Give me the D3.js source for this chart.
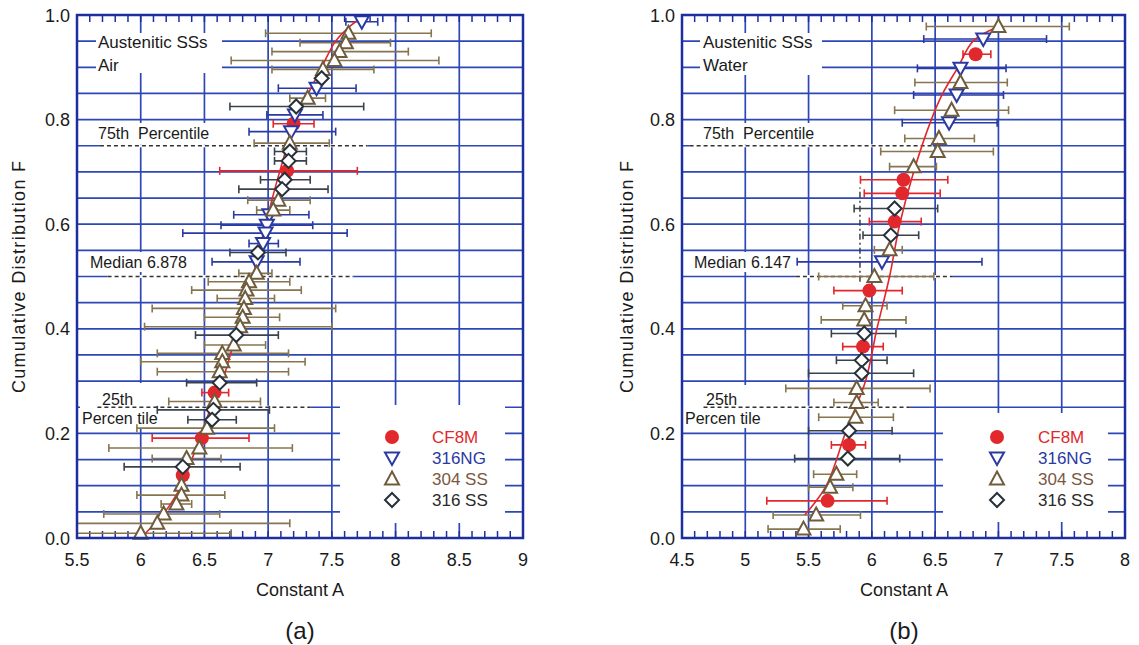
<!DOCTYPE html>
<html><head><meta charset="utf-8">
<script src="https://cdn.jsdelivr.net/npm/d3@7"></script>
<style>body{margin:0;background:#fff} svg{display:block} text{font-family:"Liberation Sans",Arial,sans-serif}</style>
</head><body><svg id="c" width="1139" height="645"></svg>
<script>
// ---------- DATA ----------
const yTicks = [0, 0.2, 0.4, 0.6, 0.8, 1.0];
const xTicksAir = [5.5, 6, 6.5, 7, 7.5, 8, 8.5, 9];
const xTicksWater = [4.5, 5, 5.5, 6, 6.5, 7, 7.5, 8];
const seriesNames = ["CF8M", "316NG", "304 SS", "316 SS"];

// [A, F, low, high]
const airCF8M = [[7.20,0.792,7.04,7.36],[7.15,0.702,6.62,7.70],[6.58,0.278,6.48,6.69],[6.48,0.191,6.09,6.85],[6.33,0.120,null,null]];
const air316NG = [[7.735,0.987,7.61,7.86],[7.38,0.860,7.08,7.69],[7.21,0.809,6.99,7.43],[7.18,0.777,6.85,7.53],[7.01,0.618,6.73,7.32],[6.99,0.598,6.63,7.35],[6.98,0.583,6.33,7.62],[6.96,0.563,6.85,7.08],[6.91,0.528,6.56,7.25]];
const air304 = [[7.63,0.965,6.98,8.28],[7.61,0.947,7.25,7.96],[7.56,0.930,7.03,8.10],[7.52,0.913,6.71,8.34],[7.43,0.896,7.03,7.83],[7.31,0.841,7.17,7.45],[7.17,0.755,6.89,7.48],[7.08,0.646,6.84,7.33],[7.04,0.627,6.91,7.17],[6.91,0.506,6.77,7.03],[6.85,0.490,6.53,7.17],[6.83,0.474,6.40,7.26],[6.82,0.458,6.60,7.05],[6.81,0.439,6.09,7.53],[6.80,0.422,6.50,7.09],[6.78,0.404,6.03,7.50],[6.73,0.369,6.50,6.98],[6.64,0.353,6.13,7.16],[6.64,0.337,6.00,7.29],[6.62,0.318,6.13,7.16],[6.58,0.261,6.22,6.94],[6.52,0.210,5.97,7.05],[6.46,0.172,5.75,7.19],[6.36,0.152,6.09,6.63],[6.32,0.101,null,null],[6.32,0.082,5.97,6.66],[6.28,0.065,6.16,6.40],[6.18,0.046,5.71,6.62],[6.13,0.028,5.50,7.17],[6.00,0.009,5.50,6.71]];
const air316 = [[7.42,0.879,null,null],[7.22,0.825,6.70,7.75],[7.17,0.739,7.05,7.30],[7.16,0.721,7.05,7.30],[7.13,0.685,6.94,7.33],[7.11,0.667,6.77,7.47],[6.92,0.546,6.70,7.14],[6.75,0.388,6.43,7.08],[6.62,0.297,6.36,6.91],[6.57,0.245,6.13,7.01],[6.56,0.226,6.37,6.75],[6.33,0.136,5.87,6.78]];
const airCurveA = [6.00,6.12,6.22,6.32,6.40,6.48,6.55,6.64,6.76,6.88,6.98,7.09,7.22,7.42,7.53,7.65,7.76];
const airCurveF = [0,0.03,0.06,0.1,0.15,0.2,0.25,0.3,0.4,0.5,0.6,0.7,0.8,0.9,0.95,0.98,1.0];

const watCF8M = [[6.82,0.925,6.72,6.94],[6.25,0.685,5.91,6.60],[6.24,0.659,5.94,6.54],[6.18,0.605,5.98,6.39],[5.98,0.473,5.70,6.24],[5.93,0.366,5.77,6.09],[5.82,0.178,5.68,5.95],[5.65,0.071,5.17,6.12]];
const wat316NG = [[6.88,0.954,6.41,7.38],[6.70,0.898,6.36,7.06],[6.67,0.847,6.33,7.04],[6.61,0.794,6.24,6.99],[6.08,0.528,5.41,6.87]];
const wat304 = [[7.00,0.978,6.43,7.56],[6.70,0.871,6.34,7.07],[6.63,0.818,6.18,7.08],[6.53,0.764,6.26,6.81],[6.52,0.739,6.07,6.96],[6.33,0.710,6.14,6.51],[6.14,0.551,6.02,6.24],[6.02,0.500,5.58,6.49],[5.95,0.444,5.77,6.12],[5.94,0.417,5.60,6.27],[5.88,0.286,5.32,6.46],[5.88,0.259,5.70,6.05],[5.87,0.231,5.58,6.17],[5.72,0.122,5.54,5.88],[5.67,0.097,5.50,5.85],[5.56,0.044,5.22,5.91],[5.46,0.017,5.18,5.75]];
const wat316 = [[6.18,0.630,5.86,6.52],[6.15,0.579,5.93,6.37],[5.94,0.391,5.68,6.19],[5.92,0.340,5.72,6.12],[5.92,0.315,5.50,6.33],[5.82,0.205,5.50,6.16],[5.81,0.152,5.39,6.22]];
const watCurveA = [5.47,5.64,5.79,5.95,6.04,6.14,6.22,6.33,6.47,6.56,6.68,6.80,7.00];
const watCurveF = [0.044,0.1,0.2,0.3,0.4,0.5,0.6,0.7,0.8,0.85,0.9,0.95,0.978];

// ---------- STYLE ----------
const GRID = "#2e47b6", BORDER = "#1d2f9e";
const MK = ["#e0282d", "#2a3aa2", "#6e5c3c", "#27313a"];
const BAR = ["#e0282d", "#2a3aa2", "#857650", "#3a434c"];
const TXT = ["#e0282d", "#2a3aa2", "#7a5842", "#2a2a2a"];
const shapes = {
  circle: "M7,0A7,7 0 1,1 -7,0A7,7 0 1,1 7,0Z",
  down: "M0,7L7,-5.5L-7,-5.5Z",
  up: "M0,-7.5L7,5.5L-7,5.5Z",
  diamond: "M0,-7L7,0L0,7L-7,0Z"
};
const shapeKeys = ["circle", "down", "up", "diamond"];

const svg = d3.select("#c");
svg.append("rect").attr("width", 1139).attr("height", 645).attr("fill", "#fff");

const panels = [
  {xDomain:[5.5,9], x0:77, x1:523, xTicks:xTicksAir, series:[airCF8M,air316NG,air304,air316],
   cA:airCurveA, cF:airCurveF, env:"Air", median:"Median 6.878",
   legendBox:[340,405,505,523], legX:392, legTx:432,
   boxes:[[96,33,222,73],[96,123,222,144],[87,252,190,272],[80,383,160,428]],
   dashes:[[0.75,5.68,7.78],[0.5,5.74,7.67],[0.25,5.66,7.33]],
   lbl:{x:98, medX:90, p25x:102, pctX:82}, titleX:19, axTitleX:300, panelLbl:"(a)", vdash:null},
  {xDomain:[4.5,8], x0:682, x1:1125, xTicks:xTicksWater, series:[watCF8M,wat316NG,wat304,wat316],
   cA:watCurveA, cF:watCurveF, env:"Water", median:"Median 6.147",
   legendBox:[943,413,1108,522], legX:997, legTx:1038,
   boxes:[[700,33,822,75],[700,123,820,144],[690,252,797,272],[683,385,765,428]],
   dashes:[[0.75,4.56,6.48],[0.5,5.40,6.64],[0.25,4.67,6.30]],
   lbl:{x:703, medX:694, p25x:706, pctX:685}, titleX:627, axTitleX:904, panelLbl:"(b)", vdash:[5.906,0.49,0.67]}
];

panels.forEach(p => {
  const g = svg.append("g");
  const x = d3.scaleLinear().domain(p.xDomain).range([p.x0, p.x1]);
  const y = d3.scaleLinear().domain([0, 1]).range([538, 15]);
  const [xa, xb] = p.xDomain;

  // horizontal grid every 0.05
  const hs = d3.range(1, 20).map(i => i / 20);
  g.selectAll(".h").data(hs).join("line")
    .attr("x1", p.x0).attr("x2", p.x1).attr("y1", d => y(d)).attr("y2", d => y(d))
    .attr("stroke", GRID).attr("stroke-width", 1.7);
  // vertical grid at major ticks
  g.selectAll(".v").data(p.xTicks.slice(1, -1)).join("line")
    .attr("x1", d => x(d)).attr("x2", d => x(d)).attr("y1", 15).attr("y2", 538)
    .attr("stroke", GRID).attr("stroke-width", 1.7);

  // white boxes (labels + legend)
  p.boxes.concat([p.legendBox]).forEach(b => {
    g.append("rect").attr("x", b[0]).attr("y", b[1]).attr("width", b[2] - b[0]).attr("height", b[3] - b[1]).attr("fill", "#fff");
  });

  // minor ticks top/bottom every 0.1
  const minors = d3.range(Math.round((xb - xa) * 10) + 1).map(i => xa + i / 10);
  minors.forEach(v => {
    g.append("line").attr("x1", x(v)).attr("x2", x(v)).attr("y1", 538).attr("y2", 531).attr("stroke", BORDER).attr("stroke-width", 1.5);
    g.append("line").attr("x1", x(v)).attr("x2", x(v)).attr("y1", 15).attr("y2", 22).attr("stroke", BORDER).attr("stroke-width", 1.5);
  });

  // percentile dashed lines
  p.dashes.forEach(d => {
    g.append("line").attr("x1", x(d[1])).attr("x2", x(d[2])).attr("y1", y(d[0])).attr("y2", y(d[0]))
      .attr("stroke", "#fff").attr("stroke-width", 3);
    g.append("line").attr("x1", x(d[1])).attr("x2", x(d[2])).attr("y1", y(d[0])).attr("y2", y(d[0]))
      .attr("stroke", "#333").attr("stroke-width", 1.4).attr("stroke-dasharray", "4,3");
  });
  if (p.vdash) {
    g.append("line").attr("x1", x(p.vdash[0])).attr("x2", x(p.vdash[0])).attr("y1", y(p.vdash[1])).attr("y2", y(p.vdash[2]))
      .attr("stroke", "#333").attr("stroke-width", 1.4).attr("stroke-dasharray", "6,3,2,3");
  }

  // annotation texts
  const t = (txt, tx, ty, size, anchor) => g.append("text").attr("x", tx).attr("y", ty)
    .attr("font-size", size).attr("fill", "#1a1a1a").attr("text-anchor", anchor || "start").text(txt);
  t("Austenitic SSs", p.lbl.x, 48, 17);
  t(p.env, p.lbl.x, 71, 17);
  t("75th\u00a0\u00a0Percentile", p.lbl.x, 139, 16);
  t(p.median, p.lbl.medX, 268, 16);
  t("25th", p.lbl.p25x, 405, 16);
  t("Percen tile", p.lbl.pctX, 424, 16);

  // error bars
  p.series.forEach((s, si) => {
    s.filter(d => d[2] != null).forEach(d => {
      const yy = y(d[1]);
      g.append("line").attr("x1", x(d[2])).attr("x2", x(d[3])).attr("y1", yy).attr("y2", yy).attr("stroke", BAR[si]).attr("stroke-width", 1.6);
      [d[2], d[3]].forEach(v => g.append("line").attr("x1", x(v)).attr("x2", x(v)).attr("y1", yy - 4).attr("y2", yy + 4).attr("stroke", BAR[si]).attr("stroke-width", 1.6));
    });
  });

  // fitted curve
  const pts = p.cA.map((a, i) => [a, p.cF[i]]);
  g.append("path").datum(pts)
    .attr("d", d3.line().x(d => x(d[0])).y(d => y(d[1])).curve(d3.curveCatmullRom))
    .attr("fill", "none").attr("stroke", "#e0282d").attr("stroke-width", 1.6);

  // markers
  p.series.forEach((s, si) => {
    g.selectAll(".m" + si).data(s).join("path")
      .attr("d", shapes[shapeKeys[si]])
      .attr("transform", d => `translate(${x(d[0])},${y(d[1])})`)
      .attr("fill", si === 0 ? MK[0] : "#fff")
      .attr("stroke", MK[si]).attr("stroke-width", si === 0 ? 0 : 2);
  });

  // legend
  const ly = [437, 458, 479, 500];
  seriesNames.forEach((n, i) => {
    g.append("path").attr("d", shapes[shapeKeys[i]]).attr("transform", `translate(${p.legX},${ly[i]})`)
      .attr("fill", i === 0 ? MK[0] : "#fff").attr("stroke", MK[i]).attr("stroke-width", i === 0 ? 0 : 2);
    g.append("text").attr("x", p.legTx).attr("y", ly[i] + 6).attr("font-size", 17).attr("fill", TXT[i]).text(n);
  });

  // border
  g.append("rect").attr("x", p.x0).attr("y", 15).attr("width", p.x1 - p.x0).attr("height", 523)
    .attr("fill", "none").attr("stroke", BORDER).attr("stroke-width", 2.5);

  // tick labels
  g.selectAll(".xl").data(p.xTicks).join("text")
    .attr("x", d => x(d)).attr("y", 566).attr("text-anchor", "middle").attr("font-size", 18).attr("fill", "#1a1a1a")
    .text(d => String(d));
  g.selectAll(".yl").data(yTicks).join("text")
    .attr("x", p.x0 - 7).attr("y", d => y(d) + 6.5).attr("text-anchor", "end").attr("font-size", 18).attr("fill", "#1a1a1a")
    .text(d => d.toFixed(1));

  // axis titles
  g.append("text").attr("x", p.axTitleX).attr("y", 596).attr("text-anchor", "middle").attr("font-size", 18).attr("fill", "#1a1a1a").text("Constant A");
  g.append("text").attr("transform", `translate(${p.titleX + 6},277) rotate(-90)`).attr("text-anchor", "middle")
    .attr("font-size", 18).attr("fill", "#1a1a1a").attr("textLength", 232).attr("lengthAdjust", "spacing").text("Cumulative Distribution F");
  g.append("text").attr("x", p.axTitleX).attr("y", 639).attr("text-anchor", "middle").attr("font-size", 24)
    .attr("font-family", "Liberation Serif, Times New Roman, serif").attr("fill", "#1a1a1a").text(p.panelLbl);
});
</script></body></html>
